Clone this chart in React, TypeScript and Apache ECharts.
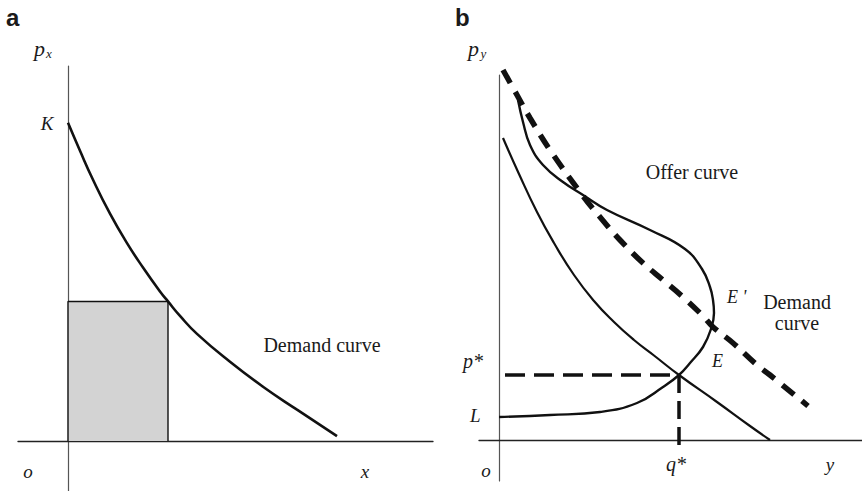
import React, { useEffect, useRef } from "react";
import * as echarts from "echarts";

// Panel a: demand curve for good x (q, p)
const demandA: number[][] = [
  [0, 31.9], [1.2, 29.1], [2.5, 26.2], [4.2, 22.8], [5.9, 19.85], [7.5, 17.4],
  [9.2, 15.0], [10, 14], [11.2, 12.55], [12.9, 10.75], [16.2, 7.95], [19.5, 5.45],
  [22.9, 3.15], [26.9, 0.5],
];
// Expenditure box p_x q_x : [q, p]
const boxCorner: number[] = [10, 14];

// Panel b
const demandBDashed: number[][] = [
  [0.4, 37], [1.8, 34.5], [3.1, 32.2], [5.1, 29], [8.4, 24.4], [10.1, 22.3],
  [12.1, 20], [14.4, 17.7], [16.4, 16], [18.4, 14.3], [20.4, 12.4], [21.4, 11.3],
  [23.4, 9.7], [25.8, 7.5], [27.1, 6.5], [30.9, 3.4],
];
const demandBSolid: number[][] = [
  [0.4, 30.2], [2.0, 26.6], [3.8, 22.8], [5.5, 19.7], [7.5, 16.5], [9.5, 13.9],
  [11.5, 11.8], [13.5, 10.0], [15.5, 8.45], [18, 6.5], [21.8, 3.8], [25.1, 1.4],
  [27.1, 0],
];
const offerCurve: number[][] = [
  [0, 2.3], [5.1, 2.5], [10.1, 2.8], [13.8, 3.7], [16.4, 5.3], [18, 6.5],
  [19.1, 7.7], [20.4, 9.3], [21.2, 11.1], [21.5, 12.7], [21.4, 14], [21.1, 15.3],
  [20.3, 17.1], [18.6, 19.1], [15.1, 21], [10.8, 23], [8.4, 24.5], [6.4, 25.8],
  [4.4, 27.5], [3.1, 29.5], [2.4, 31.8], [1.9, 34],
];
// Equilibrium E: [q*, p*]
const equilibrium: number[] = [18, 6.5];
const pStarStart: number = 0.6;

const SERIF = '"Liberation Serif", "Times New Roman", serif';
const SANS = '"Liberation Sans", Arial, sans-serif';

function label(
  text: string,
  x: number,
  y: number,
  size: number,
  opts: { italic?: boolean; bold?: boolean; align?: string; family?: string } = {}
) {
  const align = opts.align || "left";
  return {
    type: "text",
    x,
    y,
    silent: true,
    style: {
      text,
      fill: "#1a1a1a",
      fontSize: size,
      fontFamily: opts.family || SERIF,
      fontStyle: opts.italic ? "italic" : "normal",
      fontWeight: opts.bold ? "bold" : "normal",
      align,
      verticalAlign: "middle",
      textAlign: align,
      textVerticalAlign: "middle",
    },
  };
}

export default function App() {
  const ref = useRef<HTMLDivElement>(null);

  useEffect(() => {
    document.body.style.margin = "0";
    if (!ref.current) return;
    const chart = echarts.init(ref.current, undefined, { renderer: "svg" });

    const hiddenAxisBits = {
      axisTick: { show: false },
      axisLabel: { show: false },
      splitLine: { show: false },
    };
    const xLine = { show: true, onZero: true, lineStyle: { color: "#222", width: 1.3 } };
    const yLine = { show: true, onZero: true, lineStyle: { color: "#555", width: 1.2 } };

    const solid = (w: number) => ({ color: "#111", width: w, type: "solid" as const });

    chart.setOption({
      animation: false,
      backgroundColor: "#fff",
      grid: [
        { left: 18, top: 66, width: 415, height: 426 },
        { left: 479, top: 75, width: 383, height: 406 },
      ],
      xAxis: [
        { type: "value", gridIndex: 0, min: -5, max: 36.5, axisLine: xLine, ...hiddenAxisBits },
        { type: "value", gridIndex: 1, min: -2, max: 36.3, axisLine: xLine, ...hiddenAxisBits },
      ],
      yAxis: [
        { type: "value", gridIndex: 0, min: -5, max: 37.6, axisLine: yLine, ...hiddenAxisBits },
        { type: "value", gridIndex: 1, min: -4.1, max: 36.5, axisLine: yLine, ...hiddenAxisBits },
      ],
      series: [
        {
          name: "box fill",
          type: "line",
          xAxisIndex: 0,
          yAxisIndex: 0,
          data: [[0, boxCorner[1]], [boxCorner[0], boxCorner[1]]],
          showSymbol: false,
          lineStyle: { width: 0 },
          areaStyle: { color: "#d3d3d3", opacity: 1 },
          z: 1,
        },
        {
          name: "box edge",
          type: "line",
          xAxisIndex: 0,
          yAxisIndex: 0,
          data: [[0, 0], [0, boxCorner[1]], [boxCorner[0], boxCorner[1]], [boxCorner[0], 0]],
          showSymbol: false,
          lineStyle: solid(1.4),
          z: 2,
        },
        {
          name: "Demand curve a",
          type: "line",
          xAxisIndex: 0,
          yAxisIndex: 0,
          data: demandA,
          smooth: 0.5,
          showSymbol: false,
          lineStyle: solid(2.6),
          z: 3,
        },
        {
          name: "Demand curve b dashed",
          type: "line",
          xAxisIndex: 1,
          yAxisIndex: 1,
          data: demandBDashed,
          smooth: 0.4,
          showSymbol: false,
          clip: false,
          lineStyle: { color: "#111", width: 5.5, type: [15, 10], cap: "butt" },
          z: 3,
        },
        {
          name: "Demand curve b solid",
          type: "line",
          xAxisIndex: 1,
          yAxisIndex: 1,
          data: demandBSolid,
          smooth: 0.5,
          showSymbol: false,
          lineStyle: solid(2.2),
          z: 3,
        },
        {
          name: "Offer curve",
          type: "line",
          xAxisIndex: 1,
          yAxisIndex: 1,
          data: offerCurve,
          smooth: 0.45,
          showSymbol: false,
          lineStyle: solid(2.4),
          z: 3,
        },
        {
          name: "p*",
          type: "line",
          xAxisIndex: 1,
          yAxisIndex: 1,
          data: [[pStarStart, equilibrium[1]], [equilibrium[0], equilibrium[1]]],
          showSymbol: false,
          lineStyle: { color: "#111", width: 3.5, type: [20, 9], cap: "butt" },
          z: 3,
        },
        {
          name: "q*",
          type: "line",
          xAxisIndex: 1,
          yAxisIndex: 1,
          data: [[equilibrium[0], equilibrium[1]], [equilibrium[0], -0.5]],
          showSymbol: false,
          lineStyle: { color: "#111", width: 3.5, type: [18, 8], cap: "butt" },
          z: 3,
        },
      ],
      graphic: [
        label("a", 6, 17.7, 24, { bold: true, family: SANS }),
        label("p", 34, 48, 22, { italic: true }),
        label("x", 46, 53.6, 13, { italic: true }),
        label("K", 47, 123.5, 19, { italic: true, align: "center" }),
        label("p", 97, 365.5, 22, { italic: true }),
        label("x", 109.5, 371.2, 14, { italic: true }),
        label("q", 118, 365.5, 22, { italic: true }),
        label("x", 131, 371.2, 14, { italic: true }),
        label("Demand curve", 322, 344.9, 20, { align: "center" }),
        label("o", 28, 471.5, 19, { italic: true, align: "center" }),
        label("x", 365, 471.5, 19, { italic: true, align: "center" }),

        label("b", 455, 17.7, 24, { bold: true, family: SANS }),
        label("p", 468, 48, 22, { italic: true }),
        label("y", 480.5, 53.6, 13, { italic: true }),
        label("Offer curve", 692, 171.5, 20, { align: "center" }),
        label("E '", 727, 297.2, 18, { italic: true }),
        label("Demand", 797, 301.5, 20, { align: "center" }),
        label("curve", 797, 323.2, 20, { align: "center" }),
        label("E", 717.5, 360.6, 18, { italic: true, align: "center" }),
        label("p*", 463, 361.2, 20, { italic: true }),
        label("L", 470, 415.2, 19, { italic: true }),
        label("o", 486, 470.2, 19, { italic: true, align: "center" }),
        label("q*", 666, 463.7, 20, { italic: true }),
        label("y", 830, 464.5, 19, { italic: true, align: "center" }),
      ],
    });

    return () => chart.dispose();
  }, []);

  return <div ref={ref} style={{ width: 862, height: 491 }} />;
}
